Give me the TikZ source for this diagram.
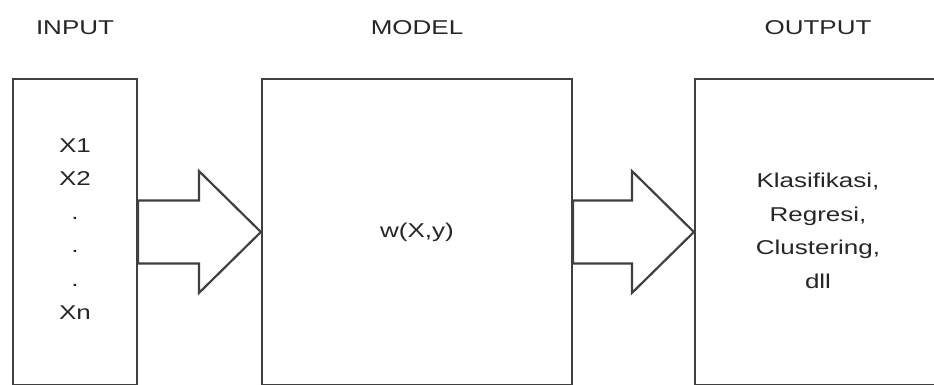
\documentclass[tikz,border=0pt]{standalone}
\usepackage{fontspec}
\setmainfont[FakeStretch=1.3]{Liberation Sans}
\usetikzlibrary{calc,positioning}

\begin{document}
\begin{tikzpicture}[x=1pt,y=1pt,
			box/.style={draw=black!75, line width=2.2pt, minimum height=306pt, inner sep=0pt},
			blockarrow/.style={draw=black!75, line width=2.2pt, fill=white, line join=miter},
			txt/.style={text=black!85, align=center, font=\fontsize{20}{33.5}\selectfont}]
			\useasboundingbox (0,0) rectangle (934,385);
			\clip (0,0) rectangle (934,385);
			% boxes
			\node[box, minimum width=124pt] (inbox) at (75,153) {};
			\node[box, minimum width=310pt] (modelbox) at (417,153) {};
			\node[box, minimum width=246pt] (outbox) at (818,153) {};
			% titles
			\node[txt] (intitle) at (75,357) {INPUT};
			\node[txt] (modeltitle) at (417,357) {MODEL};
			\node[txt] (outtitle) at (818,357) {OUTPUT};
			% contents
			\node[txt] (intext) at (75,156) {X1\\X2\\.\\.\\.\\Xn};
			\node[txt] (modeltext) at (417,153) {w(X,y)};
			\node[txt] (outtext) at (818,154) {Klasifikasi,\\Regresi,\\Clustering,\\dll};
			% arrows
			\foreach \a/\b in {inbox/modelbox, modelbox/outbox}
				\draw[blockarrow] (\b.west) -- ++(-62,61) -- ++(0,-29.5) -- ([yshift=31.5pt]\a.east)
					-- ([yshift=-31.5pt]\a.east) -- ($(\b.west)+(-62,-31.5)$) -- ++(0,-29.5) -- cycle;
		\end{tikzpicture}
\end{document}
